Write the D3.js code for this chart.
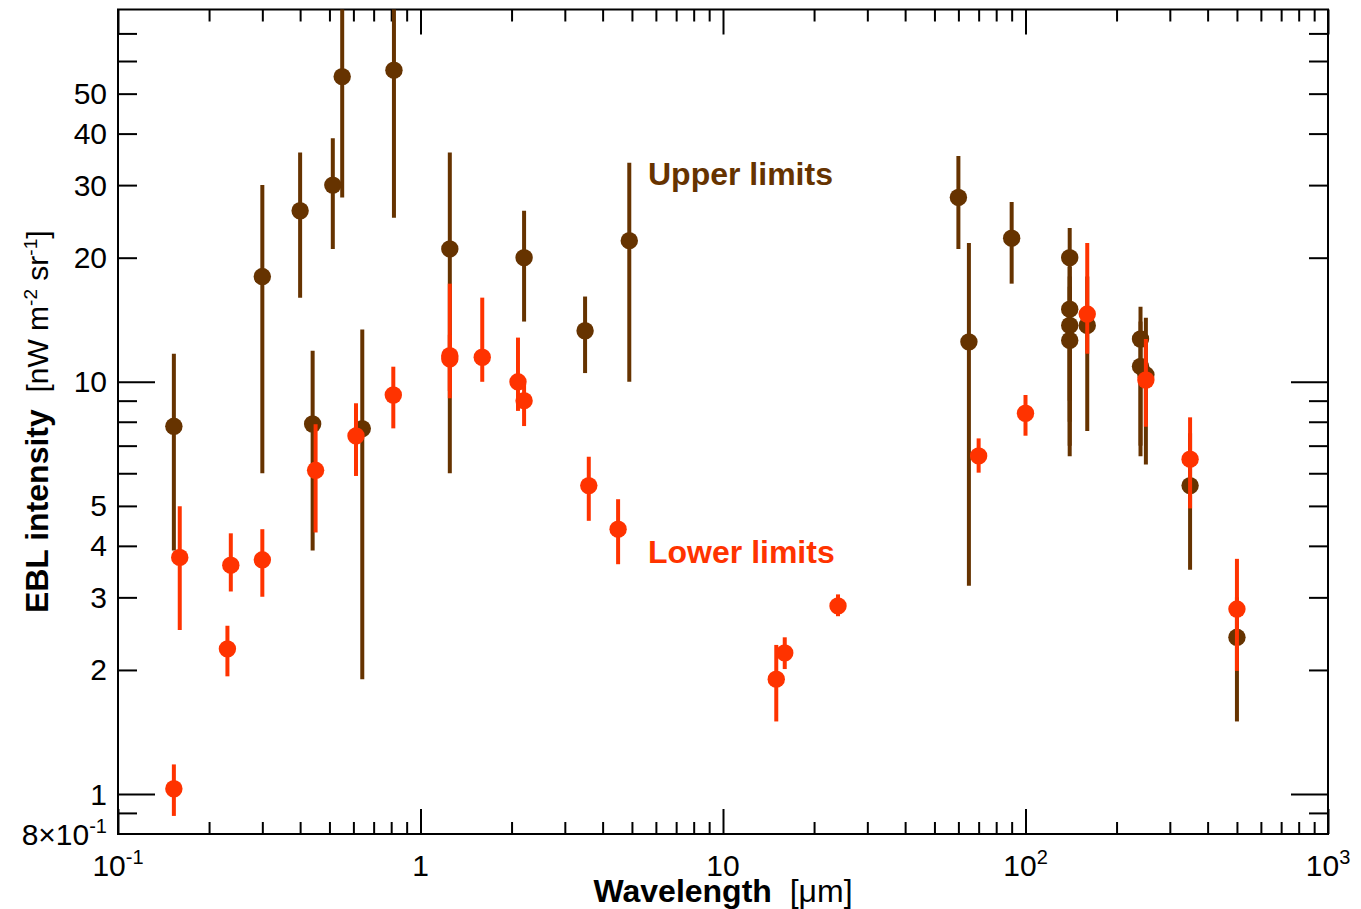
<!DOCTYPE html>
<html>
<head>
<meta charset="utf-8">
<script src="https://cdn.jsdelivr.net/npm/d3@7"></script>
<style>
  body { margin: 0; background: #fff; }
  svg { display: block; font-family: "Liberation Sans", Arial, Helvetica, sans-serif; }
</style>
</head>
<body>
<svg id="chart" width="1361" height="909"></svg>
<script>
// --- upper limits (brown) : wavelength [um], value, lower end, upper end [nW m-2 sr-1]
const upperWl  = [0.153, 0.30, 0.40, 0.513, 0.551, 0.817, 0.44, 0.642, 1.25, 2.2, 3.5, 4.9,
                  60, 65, 90, 140, 140, 140, 140, 160, 240, 240, 250, 350, 500];
const upperVal = [7.8, 18, 26, 30, 55, 57, 7.9, 7.7, 21, 20, 13.3, 22,
                  28, 12.5, 22.3, 20, 15, 13.7, 12.6, 13.7, 12.7, 10.9, 10.4, 5.6, 2.4];
const upperLo  = [3.9, 6.0, 16, 21, 28, 25, 3.9, 1.9, 6.0, 14, 10.5, 10,
                  21, 3.2, 17.3, 6.6, 9, 8, 7, 7.6, 6.6, 7, 6.3, 3.5, 1.5];
const upperHi  = [11.7, 30, 36, 39, 100, 100, 11.9, 13.4, 36, 26, 16.1, 34,
                  35.3, 21.7, 27.3, 23.6, 19, 18, 17, 18, 15.2, 14, 14.3, 7.5, 3.0];

// --- lower limits (red)
const lowerWl  = [0.153, 0.16, 0.23, 0.236, 0.30, 0.45, 0.612, 0.813, 1.25, 1.25, 1.6, 2.1, 2.2,
                  3.6, 4.5, 15, 16, 24, 70, 100, 160, 250, 350, 500];
const lowerVal = [1.03, 3.75, 2.25, 3.59, 3.70, 6.1, 7.39, 9.29, 11.57, 11.36, 11.47, 10.0, 9.0,
                  5.6, 4.39, 1.9, 2.2, 2.86, 6.61, 8.39, 14.6, 10.1, 6.49, 2.81];
const lowerLo  = [0.885, 2.5, 1.93, 3.1, 3.01, 4.31, 5.91, 7.71, 9.12, 9.5, 10.0, 8.5, 7.81,
                  4.6, 3.61, 1.5, 2.01, 2.70, 6.02, 7.4, 11.7, 7.78, 4.93, 1.99];
const lowerHi  = [1.18, 4.99, 2.56, 4.29, 4.39, 7.89, 8.87, 10.88, 17.3, 13, 16.0, 12.8, 9.9,
                  6.58, 5.19, 2.3, 2.4, 3.05, 7.29, 9.29, 21.7, 12.7, 8.2, 3.72];

// --- axes
const xMajor = [0.1, 1, 10, 100, 1000];
const xMajorLabels = [["10", "-1"], ["1", ""], ["10", ""], ["10", "2"], ["10", "3"]];
const yMajor = [1, 10];
const yLabelVals = [0.8, 1, 2, 3, 4, 5, 10, 20, 30, 40, 50];
const yLabelText = [["8\u00d710", "-1"], ["1", ""], ["2", ""], ["3", ""], ["4", ""], ["5", ""],
                    ["10", ""], ["20", ""], ["30", ""], ["40", ""], ["50", ""]];

const brown = "#663300", red = "#ff3300";

const svg = d3.select("#chart");
const L = 118, R = 1328, T = 9.5, B = 834;

const x = d3.scaleLog().domain([0.1, 1000]).range([L, R]);
const y = d3.scaleLog().domain([0.8, 80]).range([B, T]);

const xMinor = [];
for (let d = 0.1; d < 1000; d *= 10) for (let k = 2; k <= 9; k++) xMinor.push(d * k);
const yMinor = [0.9];
for (let d = 1; d < 80; d *= 10) for (let k = 2; k <= 9; k++) if (d * k < 80) yMinor.push(d * k);

function tickAxis(axisFn, scale, vals, size, tx, ty) {
  const g = svg.append("g")
    .attr("transform", `translate(${tx},${ty})`)
    .call(axisFn(scale).tickValues(vals).tickSize(size).tickFormat(""));
  g.select(".domain").remove();
  g.selectAll(".tick line").attr("stroke", "#000").attr("stroke-width", 2);
}

// bottom / top ticks (pointing inward)
tickAxis(d3.axisBottom, x, xMinor, -12, 0, B);
tickAxis(d3.axisBottom, x, xMajor, -25, 0, B);
tickAxis(d3.axisTop, x, xMinor, -12, 0, T);
tickAxis(d3.axisTop, x, xMajor, -25, 0, T);
// left / right ticks
tickAxis(d3.axisLeft, y, yMinor, -19, L, 0);
tickAxis(d3.axisLeft, y, yMajor, -37, L, 0);
tickAxis(d3.axisRight, y, yMinor, -19, R, 0);
tickAxis(d3.axisRight, y, yMajor, -37, R, 0);

// frame
svg.append("rect")
  .attr("x", L).attr("y", T).attr("width", R - L).attr("height", B - T)
  .attr("fill", "none").attr("stroke", "#000").attr("stroke-width", 2);

// x tick labels
const xl = svg.append("g").attr("font-size", 30).attr("fill", "#000");
xMajor.forEach((v, i) => {
  const t = xl.append("text").attr("x", x(v)).attr("y", 876).attr("text-anchor", "middle");
  t.append("tspan").text(xMajorLabels[i][0]);
  if (xMajorLabels[i][1]) t.append("tspan").attr("dy", -12).attr("font-size", 20).text(xMajorLabels[i][1]);
});

// y tick labels
const yl = svg.append("g").attr("font-size", 30).attr("fill", "#000");
yLabelVals.forEach((v, i) => {
  const t = yl.append("text").attr("x", 107).attr("y", y(v) + 10.5).attr("text-anchor", "end");
  t.append("tspan").text(yLabelText[i][0]);
  if (yLabelText[i][1]) t.append("tspan").attr("dy", -12).attr("font-size", 20).text(yLabelText[i][1]);
});

// axis titles
const xt = svg.append("text").attr("x", (L + R) / 2).attr("y", 902)
  .attr("text-anchor", "middle").attr("font-size", 32);
xt.append("tspan").attr("font-weight", "bold").text("Wavelength");
xt.append("tspan").attr("xml:space", "preserve").text("  [\u03bcm]");

const yt = svg.append("text")
  .attr("transform", `translate(48,${(T + B) / 2}) rotate(-90)`)
  .attr("text-anchor", "middle").attr("font-size", 30);
yt.append("tspan").attr("font-weight", "bold").attr("font-size", 32).text("EBL intensity");
yt.append("tspan").text("\u00a0\u00a0[nW m");
yt.append("tspan").attr("dy", -11).attr("font-size", 19).text("-2");
yt.append("tspan").attr("dy", 11).text(" sr");
yt.append("tspan").attr("dy", -11).attr("font-size", 19).text("-1");
yt.append("tspan").attr("dy", 11).text("]");

// data
svg.append("clipPath").attr("id", "plotClip")
  .append("rect").attr("x", L).attr("y", T).attr("width", R - L).attr("height", B - T);
const plot = svg.append("g").attr("clip-path", "url(#plotClip)");

function series(wl, val, lo, hi, color) {
  const data = wl.map((w, i) => ({ w, v: val[i], lo: lo[i], hi: hi[i] }));
  const g = plot.append("g");
  g.selectAll("line").data(data).join("line")
    .attr("x1", d => x(d.w)).attr("x2", d => x(d.w))
    .attr("y1", d => y(d.lo)).attr("y2", d => y(d.hi))
    .attr("stroke", color).attr("stroke-width", 4);
  g.selectAll("circle").data(data).join("circle")
    .attr("cx", d => x(d.w)).attr("cy", d => y(d.v)).attr("r", 8.7)
    .attr("fill", color);
}
series(upperWl, upperVal, upperLo, upperHi, brown);
series(lowerWl, lowerVal, lowerLo, lowerHi, red);

// annotations
svg.append("text").attr("x", 648).attr("y", 185).attr("font-size", 32)
  .attr("font-weight", "bold").attr("fill", brown).text("Upper limits");
svg.append("text").attr("x", 648).attr("y", 563).attr("font-size", 32)
  .attr("font-weight", "bold").attr("fill", red).text("Lower limits");
</script>
</body>
</html>
